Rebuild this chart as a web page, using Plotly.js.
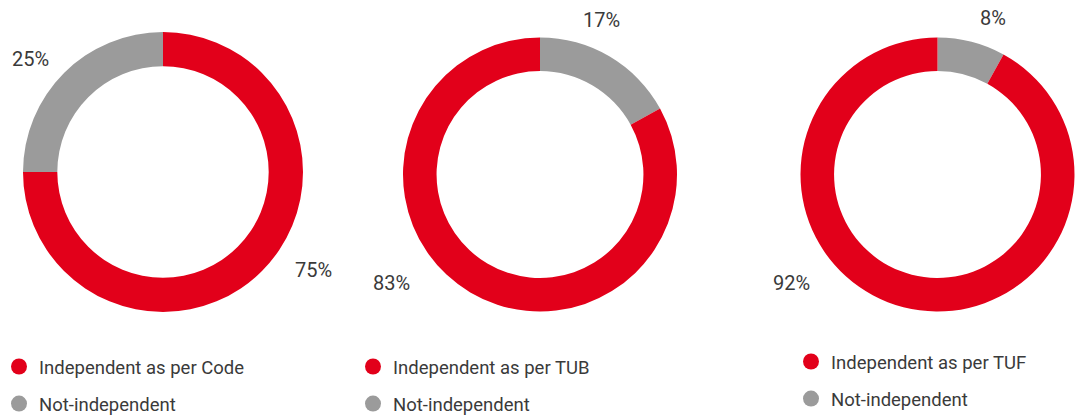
<!DOCTYPE html>
<html>
<head>
<meta charset="utf-8">
<script src="https://cdn.plot.ly/plotly-3.0.1.min.js"></script>
<style>html,body{margin:0;padding:0;background:#fff;}#chart{width:1075px;height:419px;}</style>
</head>
<body>
<div id="chart"></div>
<script>
// ---- data ----
const independentLabels = ["Independent as per Code", "Independent as per TUB", "Independent as per TUF"];
const notIndependentLabel = "Not-independent";
const independentShares = [75, 83, 92];
const notIndependentShares = [25, 17, 8];

// ---- layout / style (not data) ----
const W = 1075, H = 419;
const RED = "#e2001a", GREY = "#9b9b9b", TEXT = "#3a3a3a";
const FONT = "Roboto, 'Open Sans', sans-serif";
const pies = [ // centre and radius in px; whether the grey slice comes first (clockwise from 12 o'clock)
  {cx: 163, cy: 172, r: 140, greyFirst: false},
  {cx: 540, cy: 174.5, r: 137, greyFirst: true},
  {cx: 937.5, cy: 174.5, r: 137, greyFirst: true}
];
// label positions for [independent, not-independent] (px)
const labelPos = [
  [[313, 270], [30, 59]],
  [[392, 283], [601, 20]],
  [[791, 283], [993, 18]]
];
const legendPos = [ {x: -1, y: 348}, {x: 353, y: 348}, {x: 791, y: 343} ];

const traces = [];
const annotations = [];
const layout = {
  width: W, height: H,
  margin: {l: 0, r: 0, t: 0, b: 0, autoexpand: false},
  paper_bgcolor: "#fff", plot_bgcolor: "#fff",
  font: {family: FONT, color: TEXT},
  xaxis: {visible: false, range: [0, 1]},
  yaxis: {visible: false, range: [0, 1]},
  showlegend: true,
  annotations: annotations
};

independentLabels.forEach((lab, i) => {
  const p = pies[i];
  let labels = [lab, notIndependentLabel];
  let values = [independentShares[i], notIndependentShares[i]];
  let colors = [RED, GREY];
  if (p.greyFirst) { labels = labels.slice().reverse(); values = values.slice().reverse(); colors = colors.slice().reverse(); }
  traces.push({
    type: "pie",
    labels: labels,
    values: values,
    marker: {colors: colors, line: {width: 0}},
    hole: 0.755,
    sort: false,
    direction: "clockwise",
    rotation: 0,
    textinfo: "none",
    hoverinfo: "label+percent",
    showlegend: false,
    domain: {
      x: [(p.cx - p.r) / W, (p.cx + p.r) / W],
      y: [(H - p.cy - p.r) / H, (H - p.cy + p.r) / H]
    }
  });
  const vals = [independentShares[i], notIndependentShares[i]];
  vals.forEach((v, k) => {
    const [lx, ly] = labelPos[i][k];
    annotations.push({
      xref: "paper", yref: "paper",
      x: lx / W, y: 1 - ly / H,
      xanchor: "center", yanchor: "middle",
      text: v + "%", showarrow: false,
      font: {family: FONT, size: 20, color: TEXT}
    });
  });
  const legName = i === 0 ? "legend" : "legend" + (i + 1);
  [[lab, RED], [notIndependentLabel, GREY]].forEach(([name, col], k) => {
    traces.push({
      type: "scatter", mode: "markers",
      x: [null], y: [null],
      name: name,
      legend: legName,
      legendgroup: legName + "_" + k,
      marker: {color: col, size: 20, symbol: "circle"},
      hoverinfo: "skip"
    });
  });
  const lp = legendPos[i];
  layout[legName] = {
    x: lp.x / W, y: 1 - lp.y / H,
    xanchor: "left", yanchor: "top",
    orientation: "v",
    bgcolor: "rgba(0,0,0,0)",
    traceorder: "grouped",
    tracegroupgap: 10,
    font: {family: FONT, size: 18.5, color: TEXT}
  };
});

Plotly.newPlot("chart", traces, layout, {displayModeBar: false, staticPlot: true});
</script>
</body>
</html>
